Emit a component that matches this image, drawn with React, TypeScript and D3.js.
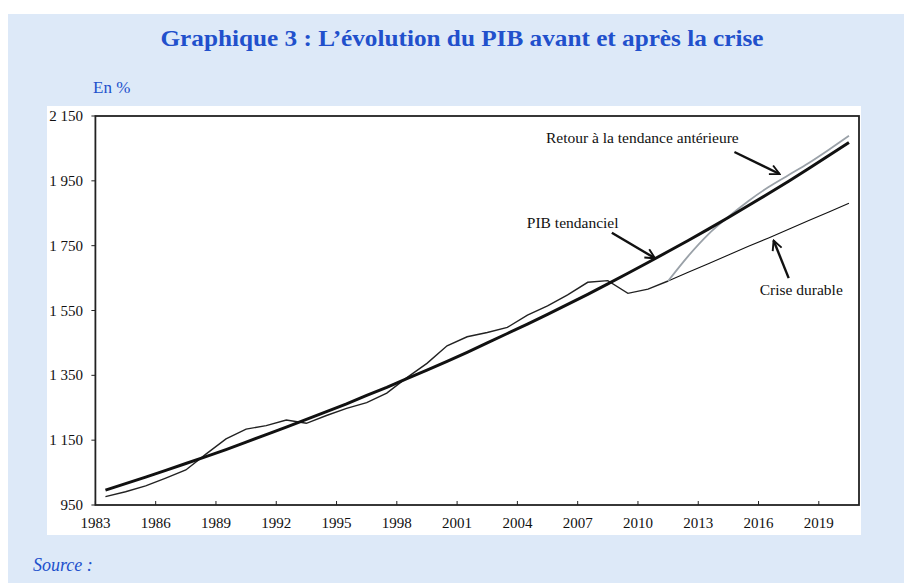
import * as d3 from 'd3'

// annual data, plotted at mid-year
const years = [
  1983, 1984, 1985, 1986, 1987, 1988, 1989, 1990, 1991, 1992, 1993, 1994, 1995,
  1996, 1997, 1998, 1999, 2000, 2001, 2002, 2003, 2004, 2005, 2006, 2007, 2008,
  2009, 2010, 2011, 2012, 2013, 2014, 2015, 2016, 2017, 2018, 2019, 2020,
]
const pibTendanciel = [
  996, 1016, 1036, 1057, 1078, 1099, 1121, 1144, 1167, 1190, 1214, 1238, 1262,
  1288, 1313, 1340, 1366, 1393, 1421, 1450, 1479, 1508, 1538, 1569, 1600, 1632,
  1665, 1698, 1732, 1766, 1801, 1837, 1874, 1911, 1949, 1988, 2028, 2068,
]
// observed GDP 1983-2011
const pibObserve = [
  976, 991, 1009, 1033, 1058, 1107, 1154, 1184, 1195, 1212, 1202, 1226, 1248,
  1266, 1295, 1343, 1387, 1441, 1469, 1482, 1498, 1536, 1564, 1598, 1637, 1642,
  1603, 1616, 1641,
]
// scenarios 2011-2020
const scenarioYears = [2011, 2012, 2013, 2014, 2015, 2016, 2017, 2018, 2019, 2020]
const criseDurable = [1641, 1668, 1694, 1721, 1748, 1774, 1801, 1828, 1854, 1881]
const retourTendance = [1641, 1718, 1785, 1839, 1888, 1931, 1968, 2005, 2046, 2089]

const xTicks = [1983, 1986, 1989, 1992, 1995, 1998, 2001, 2004, 2007, 2010, 2013, 2016, 2019]
const yTicks = [950, 1150, 1350, 1550, 1750, 1950, 2150]

// annotations: label + arrow (tail -> head) in data units
const annotations = [
  { text: 'Retour à la tendance antérieure', lx: 2005.42, ly: 2067, from: [2014.8, 2039], to: [2017.05, 1971] },
  { text: 'PIB tendanciel', lx: 2004.47, ly: 1805, from: [2008.7, 1790], to: [2010.85, 1711] },
  { text: 'Crise durable', lx: 2016.06, ly: 1598, from: [2017.5, 1650], to: [2016.75, 1766] },
]

const blue = '#2150cc'
const serif = '"Liberation Serif", "DejaVu Serif", serif'

export default function App() {
  const margin = { left: 95.4, right: 859, top: 116, bottom: 505 }
  const x = d3.scaleLinear().domain([1983, 2021]).range([margin.left, margin.right])
  const y = d3.scaleLinear().domain([950, 2150]).range([margin.bottom, margin.top])

  const line = d3
    .line<[number, number]>()
    .x((d) => x(d[0] + 0.5))
    .y((d) => y(d[1]))

  const trend = line(years.map((yr, i) => [yr, pibTendanciel[i]]))
  const observed = line(pibObserve.map((v, i) => [years[i], v]))
  const crise = line(scenarioYears.map((yr, i) => [yr, criseDurable[i]]))
  const retour = d3
    .line<[number, number]>()
    .x((d) => x(d[0] + 0.5))
    .y((d) => y(d[1]))
    .curve(d3.curveMonotoneX)(scenarioYears.map((yr, i) => [yr, retourTendance[i]]))

  return (
    <div style={{ position: 'absolute', left: 0, top: 0 }}>
      <svg width={904} height={583} style={{ display: 'block' }} fontFamily={serif}>
        <defs>
          <marker id='arr' viewBox='0 0 10 10' refX='9' refY='5' markerWidth='5' markerHeight='5' orient='auto'>
            <path d='M1,1 L9,5 L1,9' fill='none' stroke='#111' strokeWidth='1.6' />
          </marker>
        </defs>
        <rect x={0} y={0} width={904} height={583} fill='#fff' />
        <rect x={8} y={14} width={896} height={569} fill='#dde9f8' />
        <text
          x={462}
          y={46}
          textAnchor='middle'
          fontSize={24}
          fontWeight='bold'
          fill={blue}
          textLength={603}
          lengthAdjust='spacingAndGlyphs'
        >
          Graphique 3 : L’évolution du PIB avant et après la crise
        </text>
        <text x={93} y={93} fontSize={17} fill={blue}>
          En %
        </text>
        <rect x={47} y={106} width={814} height={429} fill='#fff' />

        {/* lines */}
        <path d={observed ?? ''} fill='none' stroke='#222' strokeWidth={1.4} />
        <path d={crise ?? ''} fill='none' stroke='#111' strokeWidth={1.1} />
        <path d={retour ?? ''} fill='none' stroke='#9aa1a8' strokeWidth={1.8} />
        <path d={trend ?? ''} fill='none' stroke='#111' strokeWidth={3} />

        {/* frame */}
        <rect
          x={margin.left}
          y={margin.top}
          width={margin.right - margin.left}
          height={margin.bottom - margin.top}
          fill='none'
          stroke='#222'
          strokeWidth={1.8}
        />

        {/* y axis */}
        {yTicks.map((t) => (
          <g key={t}>
            <line x1={margin.left - 4} x2={margin.left} y1={y(t)} y2={y(t)} stroke='#222' strokeWidth={1} />
            <text x={83} y={y(t) + 5} textAnchor='end' fontSize={15} fill='#111'>
              {d3.format(',')(t).replace(',', ' ')}
            </text>
          </g>
        ))}

        {/* x axis */}
        {xTicks.map((t) => (
          <g key={t}>
            <line x1={x(t)} x2={x(t)} y1={margin.bottom} y2={margin.bottom - 4} stroke='#222' strokeWidth={1} />
            <text x={x(t)} y={528} textAnchor='middle' fontSize={15} fill='#111'>
              {t}
            </text>
          </g>
        ))}

        {/* annotations */}
        {annotations.map((a) => (
          <g key={a.text}>
            <text x={x(a.lx)} y={y(a.ly)} fontSize={15.5} fill='#111'>
              {a.text}
            </text>
            <line
              x1={x(a.from[0])}
              y1={y(a.from[1])}
              x2={x(a.to[0])}
              y2={y(a.to[1])}
              stroke='#111'
              strokeWidth={2.4}
              markerEnd='url(#arr)'
            />
          </g>
        ))}

        <text x={33} y={571} fontSize={18} fontStyle='italic' fill={blue}>
          Source :
        </text>
      </svg>
    </div>
  )
}
